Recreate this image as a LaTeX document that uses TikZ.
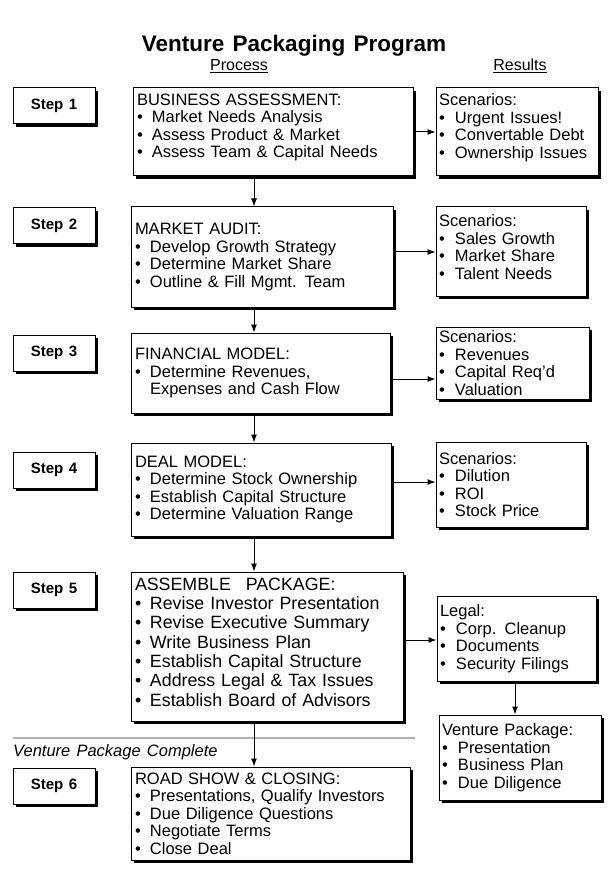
\documentclass[tikz,border=0pt]{standalone}
\usepackage{fontspec}
\setmainfont[WordSpace=1.35]{Liberation Sans}
\usetikzlibrary{shadows,arrows.meta}
\begin{document}
\begin{tikzpicture}[x=1pt,y=-1pt,
  shbox/.style={draw, line width=1pt, fill=white,
    drop shadow={shadow xshift=3pt, shadow yshift=-3pt, fill=black, opacity=1}},
  stepbox/.style={shbox, minimum width=82pt, minimum height=36pt, inner sep=0pt,
    font=\bfseries\fontsize{15}{18}\selectfont},
  procbox/.style={shbox, align=left, inner xsep=4pt, inner ysep=0pt,
    font=\fontsize{16.5}{17.5}\selectfont},
  resbox/.style={procbox, inner xsep=3pt},
  arr/.style={line width=1pt, -{Latex[length=8pt,width=6pt]}},
  hdr/.style={font=\fontsize{16}{18}\selectfont}
]
\useasboundingbox (0,0) rectangle (608,882);
\newcommand{\bul}{\makebox[15pt][l]{\textbullet}}
\newcommand{\rbul}{\makebox[16pt][l]{\textbullet}}
\newcommand{\ind}{\hspace*{15pt}}
\newcommand{\up}{\par\vspace{9pt}\hrule height 0pt depth 0pt}

\node[font=\bfseries\fontsize{22.5}{26}\selectfont] (title) at (294,46) {Venture Packaging Program};
\node[hdr] (hproc) at (239,66) {\underline{Process}};
\node[hdr] (hres) at (520,66) {\underline{Results}};

% step boxes
\node[stepbox] (s1) at (54,106) {Step 1};
\node[stepbox] (s2) at (54,226) {Step 2};
\node[stepbox] (s3) at (54,353) {Step 3};
\node[stepbox] (s4) at (54,470) {Step 4};
\node[stepbox] (s5) at (54,590) {Step 5};
\node[stepbox] (s6) at (54,786) {Step 6};

% process boxes
\node[procbox, minimum width=280pt, minimum height=88pt, text width=272pt] (p1) at (273,132)
 {BUSINESS ASSESSMENT:\\ \bul Market Needs Analysis\\ \bul Assess Product \& Market\\ \bul Assess Team \& Capital Needs\up};
\node[procbox, minimum width=262pt, minimum height=100pt, text width=254pt] (p2) at (262,257)
 {MARKET AUDIT:\\ \bul Develop Growth Strategy\\ \bul Determine Market Share\\ \bul Outline \& Fill Mgmt. Team};
\node[procbox, minimum width=259pt, minimum height=80pt, text width=251pt] (p3) at (260.5,373)
 {FINANCIAL MODEL:\\ \bul Determine Revenues,\\ \ind Expenses and Cash Flow};
\node[procbox, minimum width=260pt, minimum height=93pt, text width=252pt] (p4) at (261,489.5)
 {DEAL MODEL:\\ \bul Determine Stock Ownership\\ \bul Establish Capital Structure\\ \bul Determine Valuation Range};
\node[procbox, minimum width=272pt, minimum height=149pt, text width=264pt,
  font=\fontsize{17.8}{19.3}\selectfont] (p5) at (267,646.5)
 {ASSEMBLE\hspace{0.5em} PACKAGE:\\ \bul Revise Investor Presentation\\ \bul Revise Executive Summary\\ \bul Write Business Plan\\ \bul Establish Capital Structure\\ \bul Address Legal \& Tax Issues\\ \bul Establish Board of Advisors\up};
\node[procbox, minimum width=279pt, minimum height=93pt, text width=271pt] (p6) at (270.5,813.5)
 {ROAD SHOW \& CLOSING:\\ \bul Presentations, Qualify Investors\\ \bul Due Diligence Questions\\ \bul Negotiate Terms\\ \bul Close Deal};

% result boxes
\node[resbox, minimum width=162pt, minimum height=88pt, text width=156pt] (r1) at (517,132)
 {Scenarios:\\ \rbul Urgent Issues!\\ \rbul Convertable Debt\\ \rbul Ownership Issues\up};
\node[resbox, minimum width=150pt, minimum height=89pt, text width=144pt] (r2) at (511,251.5)
 {Scenarios:\\ \rbul Sales Growth\\ \rbul Market Share\\ \rbul Talent Needs\up};
\node[resbox, minimum width=153pt, minimum height=72pt, text width=147pt] (r3) at (512.5,363)
 {Scenarios:\\ \rbul Revenues\\ \rbul Capital Req'd\\ \rbul Valuation};
\node[resbox, minimum width=150pt, minimum height=85pt, text width=144pt] (r4) at (511,484.5)
 {Scenarios:\\ \rbul Dilution\\ \rbul ROI\\ \rbul Stock Price};
\node[resbox, minimum width=159pt, minimum height=85pt, text width=153pt] (r5) at (516.5,638.5)
 {Legal:\\ \rbul Corp. Cleanup\\ \rbul Documents\\ \rbul Security Filings};
\node[resbox, minimum width=162pt, minimum height=85pt, text width=156pt] (r6) at (520,757.5)
 {Venture Package:\\ \rbul Presentation\\ \rbul Business Plan\\ \rbul Due Diligence};

% separator
\coordinate (sepL) at (13,738);
\coordinate (sepR) at (415,738);
\draw[black!30, line width=1.2pt] (sepL) -- (sepR);
\node[anchor=base west, inner sep=0pt, font=\itshape\fontsize{16.5}{18}\selectfont] (vpc) at (13,756) {Venture Package Complete};

% connectors
\coordinate (colx) at (254,0);
\draw[arr] (p1.south -| colx) -- (p2.north -| colx);
\draw[arr] (p2.south -| colx) -- (p3.north -| colx);
\draw[arr] (p3.south -| colx) -- (p4.north -| colx);
\draw[arr] (p4.south -| colx) -- (p5.north -| colx);
\draw[arr] (p5.south -| colx) -- (p6.north -| colx);

\draw[arr] (p1.east |- 0,132) -- (r1.west |- 0,132);
\draw[arr] (p2.east |- 0,252) -- (r2.west |- 0,252);
\draw[arr] (p3.east |- 0,379) -- (r3.west |- 0,379);
\draw[arr] (p4.east |- 0,482) -- (r4.west |- 0,482);
\draw[arr] (p5.east |- 0,640) -- (r5.west |- 0,640);
\draw[arr] (r5.south -| 515,0) -- (r6.north -| 515,0);
\end{tikzpicture}
\end{document}
